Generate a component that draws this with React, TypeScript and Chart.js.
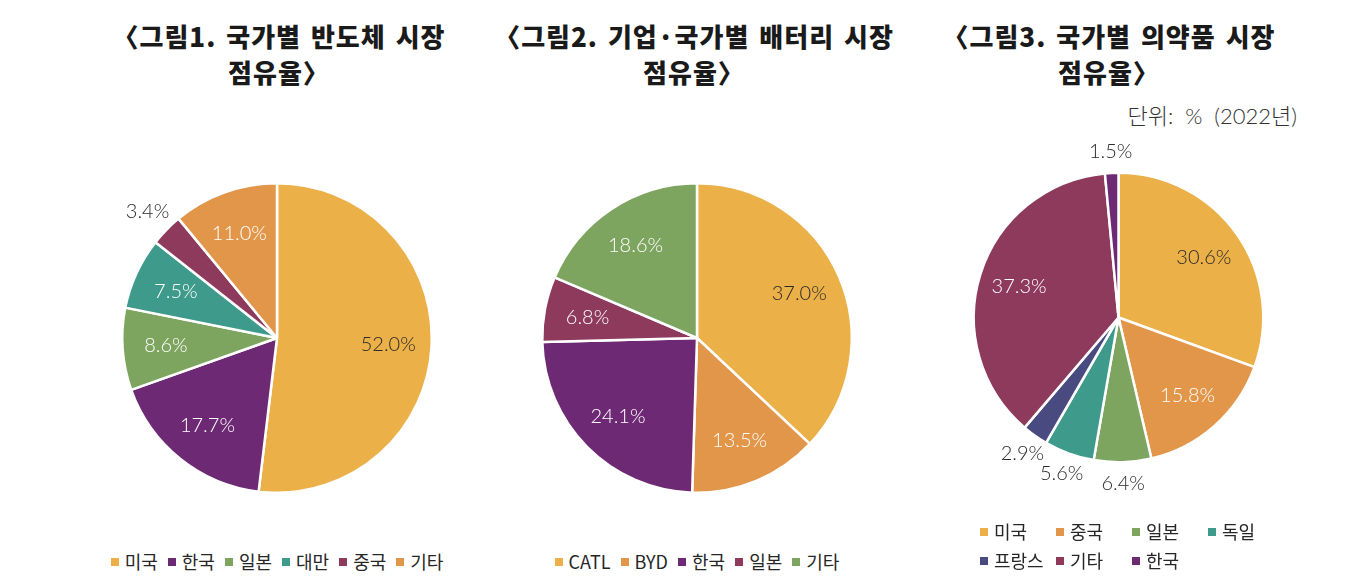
import React, { useEffect, useRef } from "react";
import { Chart, registerables } from "chart.js";

Chart.register(...registerables);

// ---------- data ----------
const chart1Title = ["〈그림1. 국가별 반도체 시장", "점유율〉"];
const chart1Labels = ["미국", "한국", "일본", "대만", "중국", "기타"];
const chart1Values = [52.0, 17.7, 8.6, 7.5, 3.4, 11.0];

const chart2Title = ["〈그림2. 기업·국가별 배터리 시장", "점유율〉"];
const chart2Labels = ["CATL", "BYD", "한국", "일본", "기타"];
const chart2Values = [37.0, 13.5, 24.1, 6.8, 18.6];

const chart3Title = ["〈그림3. 국가별 의약품 시장", "점유율〉"];
const chart3Labels = ["미국", "중국", "일본", "독일", "프랑스", "기타", "한국"];
const chart3Values = [30.6, 15.8, 6.4, 5.6, 2.9, 37.3, 1.5];

const unitNote = "단위:  %  (2022년)";

// ---------- styles ----------
const YELLOW = "#EBB048";
const ORANGE = "#E2964A";
const PURPLE = "#6E2975";
const GREEN = "#7EA560";
const TEAL = "#3E9A8A";
const MAROON = "#8E3A5C";
const NAVY = "#484A80";

const chart1Colors = [YELLOW, PURPLE, GREEN, TEAL, MAROON, ORANGE];
const chart2Colors = [YELLOW, ORANGE, PURPLE, MAROON, GREEN];
const chart3Colors = [YELLOW, ORANGE, GREEN, TEAL, NAVY, MAROON, PURPLE];

const KR = '"Noto Sans CJK KR", "Noto Sans", sans-serif';
const LABEL_FONT = '300 20px Lato, "Liberation Sans", sans-serif';
const DARK = "#2a2a2a";

const sliceLabelPlugin = {
  id: "sliceLabels",
  afterDatasetsDraw(chart: any, _args: any, opts: any) {
    const { ctx } = chart;
    const meta = chart.getDatasetMeta(0);
    const ds = chart.data.datasets[0];
    ctx.save();
    ctx.font = opts.font;
    ctx.textAlign = "center";
    ctx.textBaseline = "middle";
    meta.data.forEach((arc: any, i: number) => {
      const p = arc.getProps(["x", "y", "startAngle", "endAngle", "outerRadius"], true);
      const v = ds.data[i] as number;
      const outside = v < opts.outsideBelow;
      const mid = (p.startAngle + p.endAngle) / 2;
      const r = p.outerRadius * (outside ? opts.outerFrac : opts.innerFrac);
      const px = p.x + Math.cos(mid) * r;
      const py = p.y + Math.sin(mid) * r;
      const bg = ds.backgroundColor[i];
      ctx.fillStyle = outside ? DARK : opts.darkOn.includes(bg) ? DARK : "#ffffff";
      ctx.fillText(v.toFixed(1) + "%", px, py);
    });
    ctx.restore();
  },
};

type PieProps = {
  labels: string[];
  values: number[];
  colors: string[];
  left: number;
  top: number;
  width: number;
  height: number;
  pad: { left: number; top: number; right: number; bottom: number };
  outsideBelow: number;
  outerFrac: number;
};

function Pie(props: PieProps) {
  const ref = useRef<HTMLCanvasElement | null>(null);
  useEffect(() => {
    if (!ref.current) return;
    const chart = new Chart(ref.current, {
      type: "pie",
      data: {
        labels: props.labels,
        datasets: [
          {
            data: props.values,
            backgroundColor: props.colors,
            borderColor: "#ffffff",
            borderWidth: 2.5,
            hoverBorderWidth: 2.5,
            hoverOffset: 0,
          } as any,
        ],
      },
      options: {
        responsive: false,
        animation: false,
        layout: { padding: props.pad },
        plugins: {
          legend: { display: false },
          title: { display: false },
          tooltip: { enabled: false },
          sliceLabels: {
            font: LABEL_FONT,
            outsideBelow: props.outsideBelow,
            innerFrac: 0.72,
            outerFrac: props.outerFrac,
            darkOn: [YELLOW],
          },
        } as any,
      },
      plugins: [sliceLabelPlugin],
    });
    return () => chart.destroy();
  }, []);
  return (
    <canvas
      ref={ref}
      width={props.width}
      height={props.height}
      style={{
        position: "absolute",
        left: props.left,
        top: props.top,
        width: props.width,
        height: props.height,
      }}
    />
  );
}

function Title({ lines, center }: { lines: string[]; center: number }) {
  return (
    <div
      style={{
        position: "absolute",
        left: center - 250,
        top: 18,
        width: 500,
        textAlign: "center",
        fontFamily: KR,
        fontWeight: 900,
        fontSize: 26,
        letterSpacing: "1px",
        wordSpacing: "3px",
        lineHeight: "36px",
        color: "#1a1a1a",
      }}
    >
      {lines.map((l, i) => (
        <div key={i}>{l}</div>
      ))}
    </div>
  );
}

function LegendItem({ label, color }: { label: string; color: string }) {
  return (
    <span style={{ display: "inline-flex", alignItems: "center", whiteSpace: "nowrap" }}>
      <span
        style={{
          display: "inline-block",
          width: 8,
          height: 8,
          background: color,
          marginRight: 6,
        }}
      />
      <span>{label}</span>
    </span>
  );
}

const legendText: React.CSSProperties = {
  fontFamily: KR,
  fontSize: 18,
  color: "#262626",
  lineHeight: "29px",
};

function RowLegend({ labels, colors, center, top }: { labels: string[]; colors: string[]; center: number; top: number }) {
  return (
    <div
      style={{
        ...legendText,
        position: "absolute",
        left: center - 250,
        top,
        width: 500,
        display: "flex",
        justifyContent: "center",
        gap: 10,
      }}
    >
      {labels.map((l, i) => (
        <LegendItem key={i} label={l} color={colors[i]} />
      ))}
    </div>
  );
}

function GridLegend({ labels, colors, left, top }: { labels: string[]; colors: string[]; left: number; top: number }) {
  return (
    <div
      style={{
        ...legendText,
        position: "absolute",
        left,
        top,
        display: "grid",
        gridTemplateColumns: "76px 76px 76px 76px",
      }}
    >
      {labels.map((l, i) => (
        <LegendItem key={i} label={l} color={colors[i]} />
      ))}
    </div>
  );
}

export default function App() {
  return (
    <div
      style={{
        position: "absolute",
        left: 0,
        top: 0,
        width: 1355,
        height: 586,
        background: "#ffffff",
        overflow: "hidden",
      }}
    >
      <Title lines={chart1Title} center={279} />
      <Title lines={chart2Title} center={694} />
      <Title lines={chart3Title} center={1109} />

      <div
        style={{
          position: "absolute",
          right: 1355 - 1297,
          top: 101,
          fontFamily: 'Lato, "Noto Sans CJK KR", sans-serif',
          fontSize: 22,
          fontWeight: 300,
          color: "#333",
          lineHeight: "30px",
          whiteSpace: "pre",
        }}
      >
        {unitNote}
      </div>

      <Pie
        labels={chart1Labels}
        values={chart1Values}
        colors={chart1Colors}
        left={30}
        top={130}
        width={460}
        height={400}
        pad={{ left: 91, top: 52, right: 57, bottom: 36 }}
        outsideBelow={5}
        outerFrac={1.17}
      />
      <Pie
        labels={chart2Labels}
        values={chart2Values}
        colors={chart2Colors}
        left={495}
        top={130}
        width={420}
        height={400}
        pad={{ left: 46, top: 52, right: 62, bottom: 36 }}
        outsideBelow={5}
        outerFrac={1.17}
      />
      <Pie
        labels={chart3Labels}
        values={chart3Values}
        colors={chart3Colors}
        left={920}
        top={100}
        width={420}
        height={420}
        pad={{ left: 52.5, top: 71.5, right: 75.5, bottom: 56.5 }}
        outsideBelow={7}
        outerFrac={1.15}
      />

      <RowLegend labels={chart1Labels} colors={chart1Colors} center={277} top={547} />
      <RowLegend labels={chart2Labels} colors={chart2Colors} center={697} top={547} />
      <GridLegend labels={chart3Labels} colors={chart3Colors} left={980} top={517} />
    </div>
  );
}
